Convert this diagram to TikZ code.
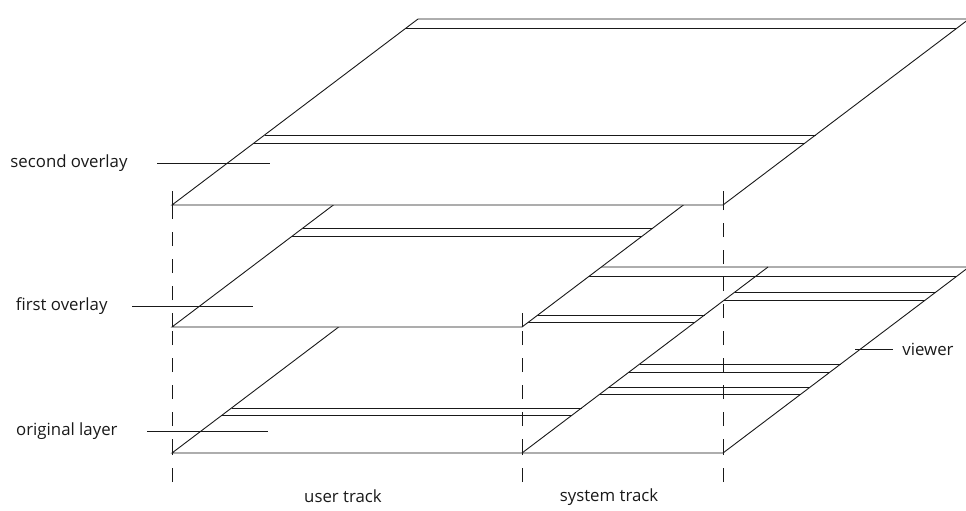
\documentclass[tikz,border=0pt]{standalone}
\usepackage{fontspec}
\setmainfont{Open Sans}
\usetikzlibrary{positioning}

\begin{document}
\begin{tikzpicture}[x=1pt,y=-1pt,line width=0.9pt,
  layer/.style={draw=black!90,fill=white},
  row/.style={draw=black!90},
  track/.style={draw=black!90,dash pattern=on 14pt off 13pt},
  leader/.style={draw=black!90},
  lbl/.style={inner sep=0pt,text=black!90,font=\fontsize{16.8}{19}\selectfont}]
  \useasboundingbox (0,0) rectangle (966,511);
  \def\k{1.3226}

  \coordinate (o-sw) at (172,453);
  \coordinate (o-sm) at (522,453);
  \coordinate (o-se) at (723,453);
  \coordinate (f-sw) at (172,327);
  \coordinate (f-se) at (522,327);
  \coordinate (s-sw) at (172,205);
  \coordinate (s-se) at (723,205);

  \draw[layer] (o-sw) -- (o-se) -- (969,267) -- (418,267) -- cycle;
  \draw[row] (o-sm) -- (768,267);
  \foreach \y in {276}
    \draw[row] ({172+(453-\y)*\k},\y) -- ({723+(453-\y)*\k},\y);
  \foreach \y in {315,322,408,415}
    \draw[row] ({172+(453-\y)*\k},\y) -- ({522+(453-\y)*\k},\y);
  \foreach \y in {292,300,364,372,387,394}
    \draw[row] ({522+(453-\y)*\k},\y) -- ({723+(453-\y)*\k},\y);

  \draw[layer] (f-sw) -- (f-se) -- (768,141) -- (418,141) -- cycle;
  \foreach \y in {228,236}
    \draw[row] ({172+(327-\y)*\k},\y) -- ({522+(327-\y)*\k},\y);

  \draw[layer] (s-sw) -- (s-se) -- (969,19) -- (418,19) -- cycle;
  \foreach \y in {28,135,143}
    \draw[row] ({172+(205-\y)*\k},\y) -- ({723+(205-\y)*\k},\y);

  \coordinate (t-w) at (172,482);
  \coordinate (t-m) at (522,482);
  \coordinate (t-e) at (723,482);
  \draw[track] (t-w) -- (o-sw);
  \draw[track] (o-sw) -- (f-sw);
  \draw[track] (f-sw) -- (s-sw);
  \draw[track] (s-sw) -- (172,190);
  \draw[track] (t-m) -- (o-sm);
  \draw[track] (o-sm) -- (f-se);
  \draw[track] (f-se) -- (522,307);
  \draw[track] (t-e) -- (o-se);
  \draw[track] (o-se) -- (s-se);
  \draw[track] (s-se) -- (723,190);

  \coordinate (so-a) at (157,163);
  \coordinate (so-b) at (270,163);
  \coordinate (fo-a) at (132,306);
  \coordinate (fo-b) at (253,306);
  \coordinate (ol-a) at (147,431);
  \coordinate (ol-b) at (268,431);
  \coordinate (vw-a) at (855,349);
  \coordinate (vw-b) at (893,349);

  \node[lbl,left=29pt of so-a] (so) {second overlay};
  \node[lbl,left=24pt of fo-a] (fo) {first overlay};
  \node[lbl,left=29pt of ol-a] (ol) {original layer};
  \node[lbl,right=9pt of vw-b] (vw) {viewer};
  \node[lbl] (ut) at (343,496) {user track};
  \node[lbl] (st) at (609,497) {system track};

  \draw[leader] (so-a) -- (so-b);
  \draw[leader] (fo-a) -- (fo-b);
  \draw[leader] (ol-a) -- (ol-b);
  \draw[leader] (vw-a) -- (vw-b);
\end{tikzpicture}
\end{document}
